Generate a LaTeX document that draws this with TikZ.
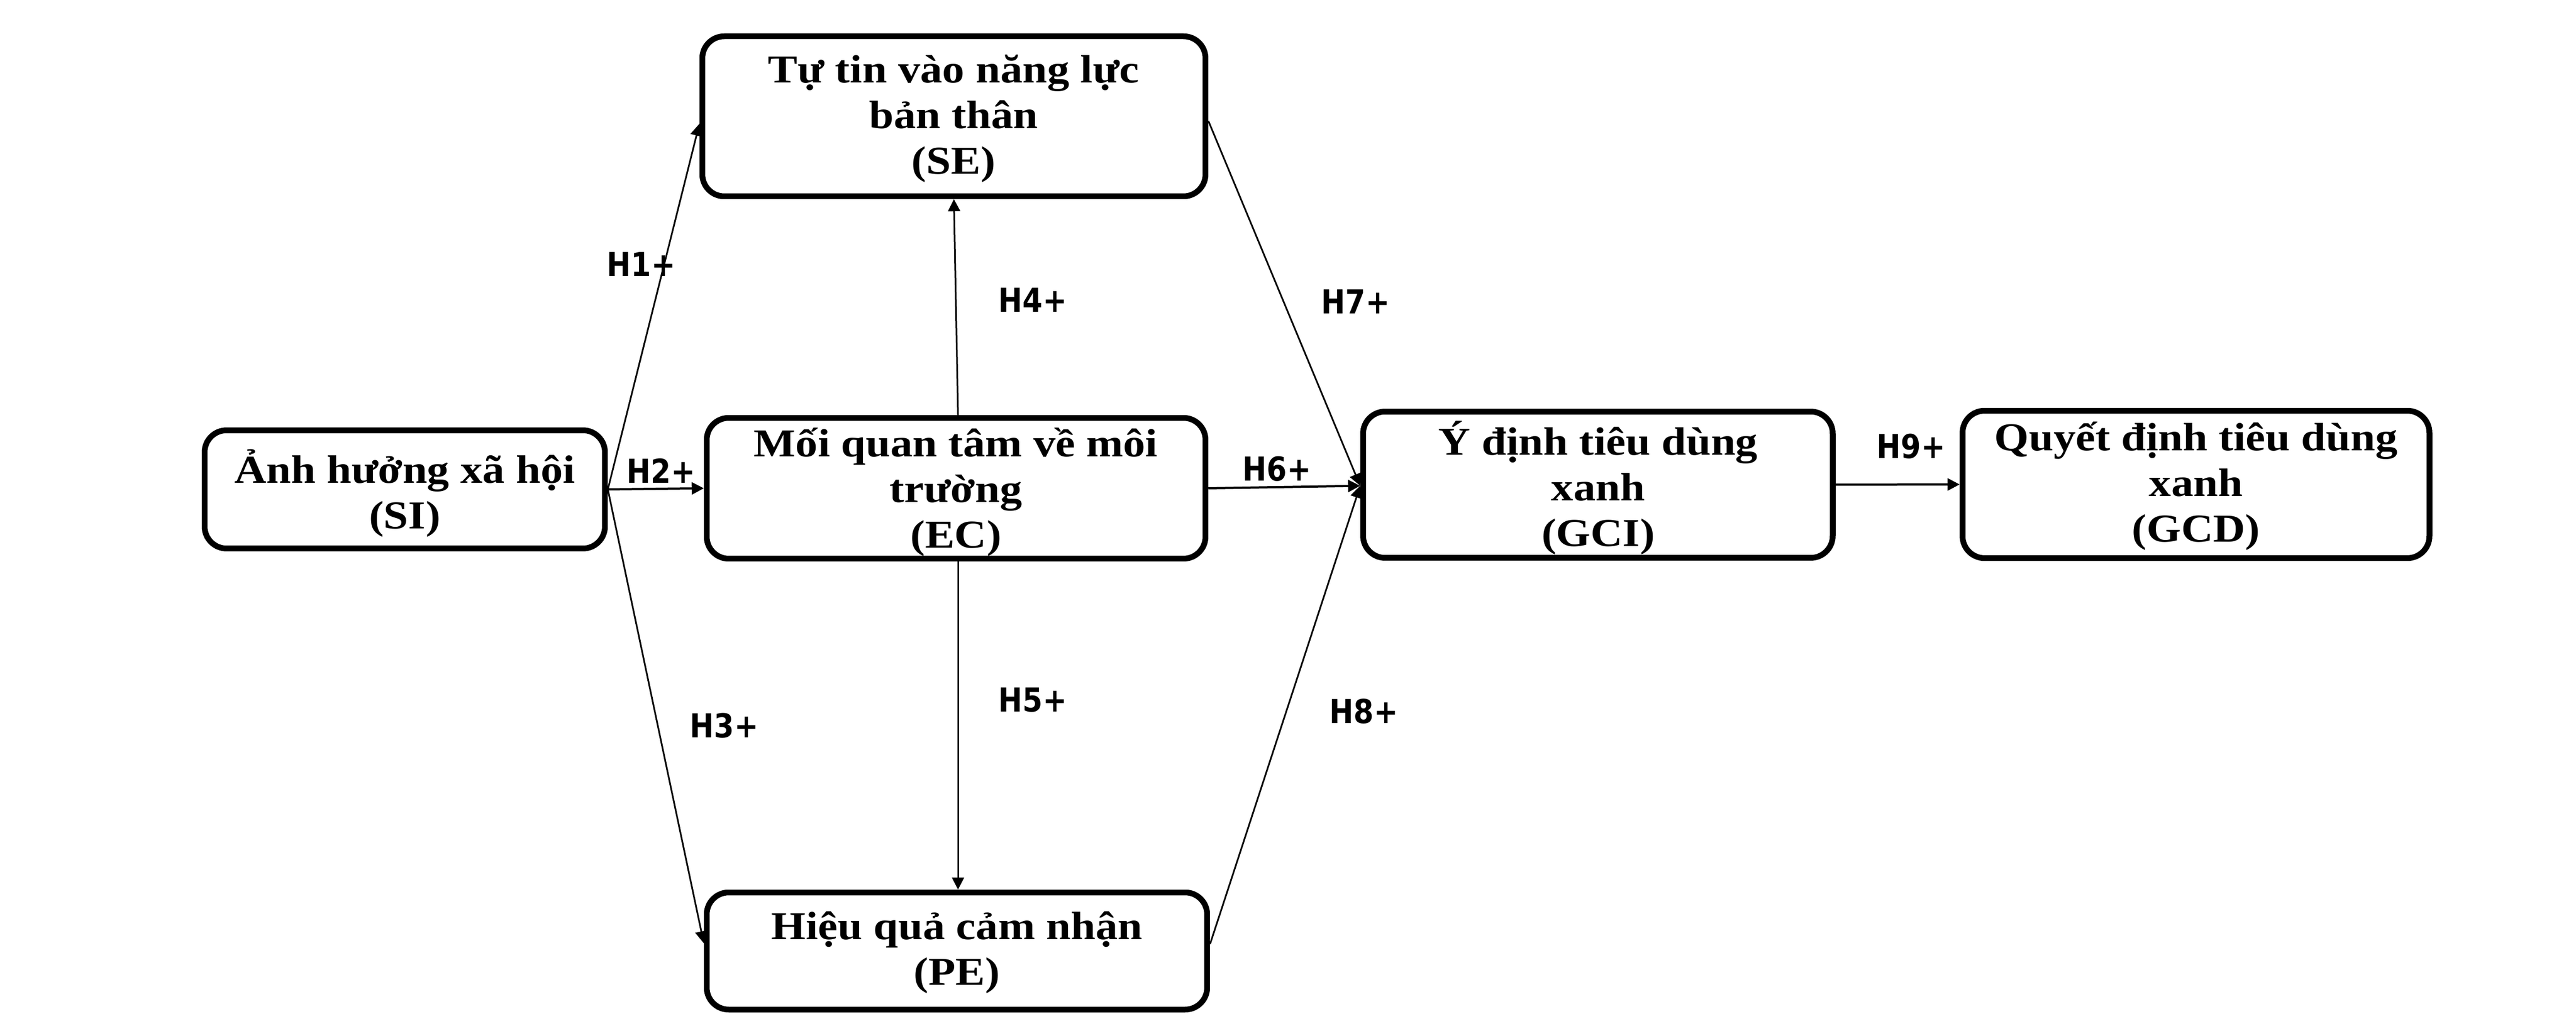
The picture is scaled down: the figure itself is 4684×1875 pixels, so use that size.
\documentclass[tikz,border=0pt]{standalone}
\usepackage{fontspec}
\setmainfont{Liberation Serif}[FakeStretch=1.12]
\newfontfamily\labfont{DejaVu Sans}[FakeStretch=0.875]
\usetikzlibrary{arrows.meta}
\begin{document}
\begin{tikzpicture}[x=0.1pt,y=-0.1pt,
  box/.style={draw, line width=1.05pt, rounded corners=4pt, inner sep=0pt},
  boxtext/.style={align=center, inner sep=0pt, font=\fontsize{7.2pt}{8.3pt}\selectfont\bfseries},
  hlab/.style={inner sep=0pt, font=\fontsize{6pt}{7pt}\selectfont\labfont\bfseries},
  arr/.style={line width=0.3pt, -{Triangle[length=2.2pt,width=2.2pt]}},
  arrb/.style={arr, line width=0.4pt},
]
\fill[white] (0,0) rectangle (4684,1875);
\useasboundingbox (0,0) rectangle (4684,1875);

% boxes
\node[box, minimum width=72.8pt, minimum height=21.5pt] (SI)  at (736,890) {};
\node[box, minimum width=91.5pt, minimum height=29.1pt] (SE)  at (1734.5,211.5) {};
\node[box, minimum width=90.7pt, minimum height=25.6pt] (EC)  at (1738.5,888) {};
\node[box, minimum width=91.0pt, minimum height=21.3pt] (PE)  at (1740,1729.5) {};
\node[box, minimum width=85.4pt, minimum height=26.6pt] (GCI) at (2905.5,881.5) {};
\node[box, minimum width=84.9pt, minimum height=26.8pt] (GCD) at (3993,881) {};

% box texts
\node[boxtext] (SIt)  at (736,897)   {Ảnh hưởng xã hội\\(SI)};
\node[boxtext] (SEt)  at (1734,216)  {Tự tin vào năng lực\\bản thân\\(SE)};
\node[boxtext] (ECt)  at (1738,895)  {Mối quan tâm về môi\\trường\\(EC)};
\node[boxtext] (PEt)  at (1740,1732) {Hiệu quả cảm nhận\\(PE)};
\node[boxtext] (GCIt) at (2906,887)  {Ý định tiêu dùng\\xanh\\(GCI)};
\node[boxtext] (GCDt) at (3993,884)  {Quyết định tiêu dùng\\xanh\\(GCD)};

% connectors
\draw[arr]  (SI.east) -- ([yshift=-1.35pt]SE.west);
\draw[arrb] (SI.east) -- (EC.west);
\draw[arr]  (SI.east) -- ([yshift=1.4pt]PE.west);
\draw[arr]  ([xshift=0.35pt]EC.north) -- (SE.south);
\draw[arr]  ([xshift=0.35pt]EC.south) -- ([xshift=0.2pt]PE.north);
\draw[arrb] (EC.east) -- ([yshift=-0.2pt]GCI.west);
\draw[arr]  ([yshift=-0.85pt]SE.east) -- ([yshift=-0.2pt]GCI.west);
\draw[arr]  ([yshift=1.25pt]PE.east) -- ([yshift=-0.2pt]GCI.west);
\draw[arrb] (GCI.east) -- (GCD.west);

% labels
\node[hlab] (L1) at (1166,481)  {H1+};
\node[hlab] (L2) at (1202,856)  {H2+};
\node[hlab] (L3) at (1317,1320) {H3+};
\node[hlab] (L4) at (1878,546)  {H4+};
\node[hlab] (L5) at (1878,1273) {H5+};
\node[hlab] (L6) at (2322,853)  {H6+};
\node[hlab] (L7) at (2465,549)  {H7+};
\node[hlab] (L8) at (2480,1294) {H8+};
\node[hlab] (L9) at (3475,812)  {H9+};
\end{tikzpicture}
\end{document}
